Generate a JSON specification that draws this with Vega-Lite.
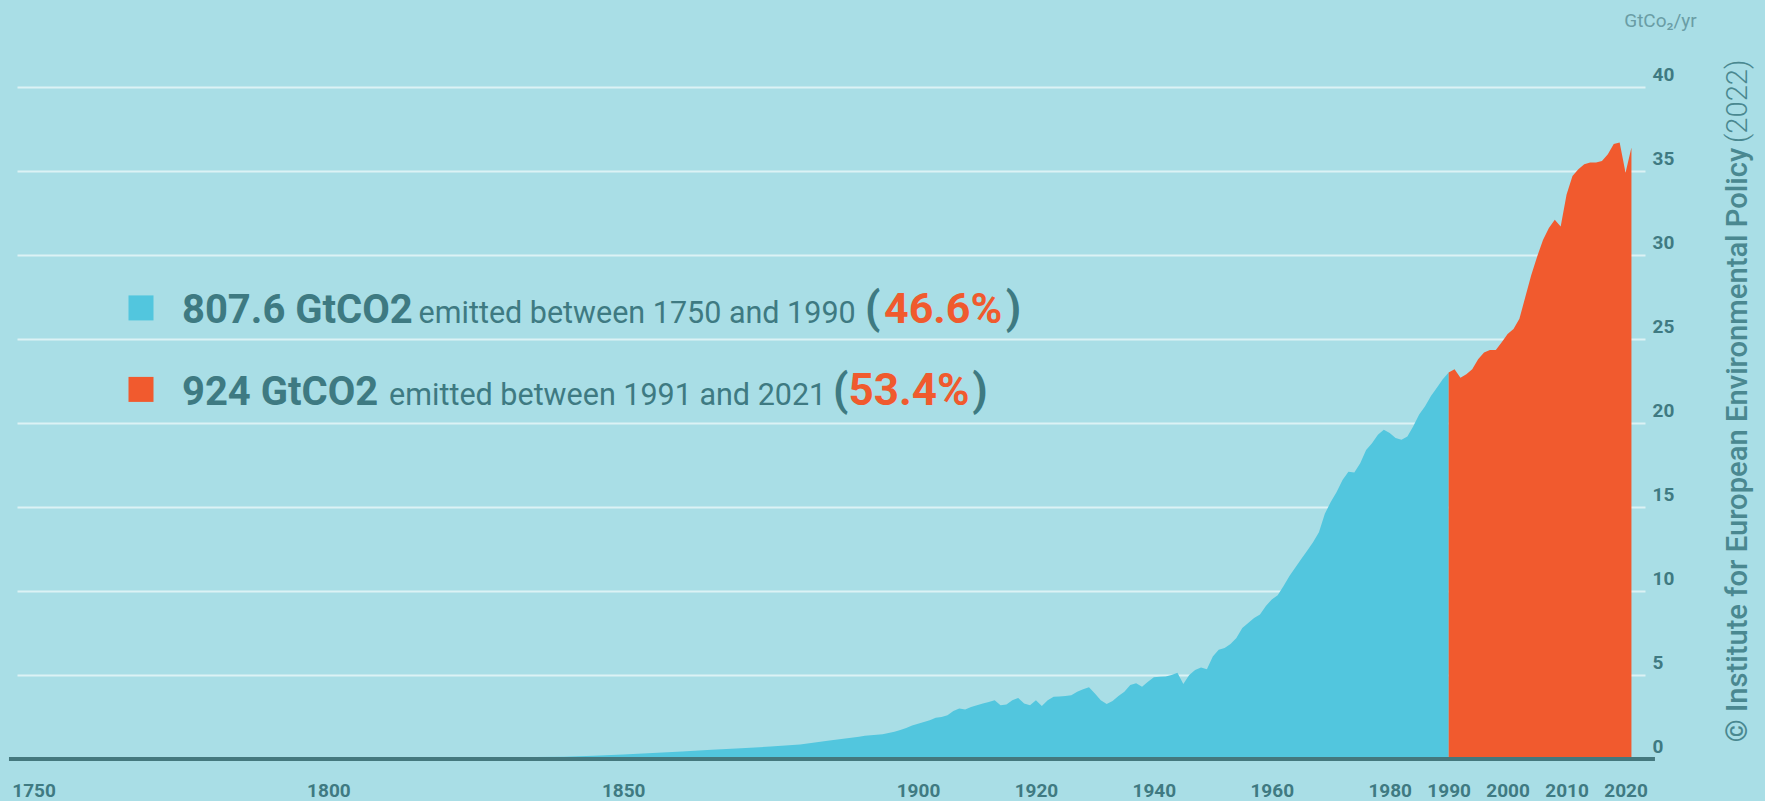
{
  "$schema": "https://vega.github.io/schema/vega-lite/v6.json",
  "width": 1628,
  "height": 672,
  "autosize": {"type": "none"},
  "padding": {"left": 17, "top": 87, "right": 120, "bottom": 42},
  "background": "#A9DEE6",
  "config": {"view": {"stroke": null}, "font": "Roboto"},
  "data": {"values": [{}]},
  "datasets": {
    "emissions": [
      {"year": 1750, "value": 0.01, "period": "1750-1990"},
      {"year": 1755, "value": 0.01, "period": "1750-1990"},
      {"year": 1760, "value": 0.012, "period": "1750-1990"},
      {"year": 1765, "value": 0.014, "period": "1750-1990"},
      {"year": 1770, "value": 0.016, "period": "1750-1990"},
      {"year": 1775, "value": 0.018, "period": "1750-1990"},
      {"year": 1780, "value": 0.02, "period": "1750-1990"},
      {"year": 1785, "value": 0.024, "period": "1750-1990"},
      {"year": 1790, "value": 0.03, "period": "1750-1990"},
      {"year": 1795, "value": 0.035, "period": "1750-1990"},
      {"year": 1800, "value": 0.04, "period": "1750-1990"},
      {"year": 1805, "value": 0.045, "period": "1750-1990"},
      {"year": 1810, "value": 0.05, "period": "1750-1990"},
      {"year": 1815, "value": 0.06, "period": "1750-1990"},
      {"year": 1820, "value": 0.07, "period": "1750-1990"},
      {"year": 1825, "value": 0.085, "period": "1750-1990"},
      {"year": 1830, "value": 0.1, "period": "1750-1990"},
      {"year": 1835, "value": 0.12, "period": "1750-1990"},
      {"year": 1840, "value": 0.14, "period": "1750-1990"},
      {"year": 1845, "value": 0.2, "period": "1750-1990"},
      {"year": 1850, "value": 0.27, "period": "1750-1990"},
      {"year": 1855, "value": 0.36, "period": "1750-1990"},
      {"year": 1860, "value": 0.45, "period": "1750-1990"},
      {"year": 1865, "value": 0.55, "period": "1750-1990"},
      {"year": 1870, "value": 0.64, "period": "1750-1990"},
      {"year": 1875, "value": 0.74, "period": "1750-1990"},
      {"year": 1880, "value": 0.86, "period": "1750-1990"},
      {"year": 1885, "value": 1.1, "period": "1750-1990"},
      {"year": 1890, "value": 1.33, "period": "1750-1990"},
      {"year": 1891, "value": 1.38, "period": "1750-1990"},
      {"year": 1892, "value": 1.42, "period": "1750-1990"},
      {"year": 1893, "value": 1.45, "period": "1750-1990"},
      {"year": 1894, "value": 1.47, "period": "1750-1990"},
      {"year": 1895, "value": 1.55, "period": "1750-1990"},
      {"year": 1896, "value": 1.62, "period": "1750-1990"},
      {"year": 1897, "value": 1.73, "period": "1750-1990"},
      {"year": 1898, "value": 1.85, "period": "1750-1990"},
      {"year": 1899, "value": 2.0, "period": "1750-1990"},
      {"year": 1900, "value": 2.1, "period": "1750-1990"},
      {"year": 1901, "value": 2.2, "period": "1750-1990"},
      {"year": 1902, "value": 2.3, "period": "1750-1990"},
      {"year": 1903, "value": 2.45, "period": "1750-1990"},
      {"year": 1904, "value": 2.5, "period": "1750-1990"},
      {"year": 1905, "value": 2.6, "period": "1750-1990"},
      {"year": 1906, "value": 2.85, "period": "1750-1990"},
      {"year": 1907, "value": 3.0, "period": "1750-1990"},
      {"year": 1908, "value": 2.95, "period": "1750-1990"},
      {"year": 1909, "value": 3.1, "period": "1750-1990"},
      {"year": 1910, "value": 3.2, "period": "1750-1990"},
      {"year": 1911, "value": 3.3, "period": "1750-1990"},
      {"year": 1912, "value": 3.4, "period": "1750-1990"},
      {"year": 1913, "value": 3.5, "period": "1750-1990"},
      {"year": 1914, "value": 3.2, "period": "1750-1990"},
      {"year": 1915, "value": 3.25, "period": "1750-1990"},
      {"year": 1916, "value": 3.5, "period": "1750-1990"},
      {"year": 1917, "value": 3.63, "period": "1750-1990"},
      {"year": 1918, "value": 3.3, "period": "1750-1990"},
      {"year": 1919, "value": 3.2, "period": "1750-1990"},
      {"year": 1920, "value": 3.5, "period": "1750-1990"},
      {"year": 1921, "value": 3.15, "period": "1750-1990"},
      {"year": 1922, "value": 3.5, "period": "1750-1990"},
      {"year": 1923, "value": 3.7, "period": "1750-1990"},
      {"year": 1924, "value": 3.72, "period": "1750-1990"},
      {"year": 1925, "value": 3.75, "period": "1750-1990"},
      {"year": 1926, "value": 3.8, "period": "1750-1990"},
      {"year": 1927, "value": 4.0, "period": "1750-1990"},
      {"year": 1928, "value": 4.15, "period": "1750-1990"},
      {"year": 1929, "value": 4.27, "period": "1750-1990"},
      {"year": 1930, "value": 3.9, "period": "1750-1990"},
      {"year": 1931, "value": 3.5, "period": "1750-1990"},
      {"year": 1932, "value": 3.27, "period": "1750-1990"},
      {"year": 1933, "value": 3.45, "period": "1750-1990"},
      {"year": 1934, "value": 3.75, "period": "1750-1990"},
      {"year": 1935, "value": 4.0, "period": "1750-1990"},
      {"year": 1936, "value": 4.4, "period": "1750-1990"},
      {"year": 1937, "value": 4.51, "period": "1750-1990"},
      {"year": 1938, "value": 4.3, "period": "1750-1990"},
      {"year": 1939, "value": 4.6, "period": "1750-1990"},
      {"year": 1940, "value": 4.87, "period": "1750-1990"},
      {"year": 1941, "value": 4.9, "period": "1750-1990"},
      {"year": 1942, "value": 4.91, "period": "1750-1990"},
      {"year": 1943, "value": 5.0, "period": "1750-1990"},
      {"year": 1944, "value": 5.14, "period": "1750-1990"},
      {"year": 1945, "value": 4.46, "period": "1750-1990"},
      {"year": 1946, "value": 5.0, "period": "1750-1990"},
      {"year": 1947, "value": 5.3, "period": "1750-1990"},
      {"year": 1948, "value": 5.44, "period": "1750-1990"},
      {"year": 1949, "value": 5.34, "period": "1750-1990"},
      {"year": 1950, "value": 6.1, "period": "1750-1990"},
      {"year": 1951, "value": 6.5, "period": "1750-1990"},
      {"year": 1952, "value": 6.6, "period": "1750-1990"},
      {"year": 1953, "value": 6.85, "period": "1750-1990"},
      {"year": 1954, "value": 7.2, "period": "1750-1990"},
      {"year": 1955, "value": 7.8, "period": "1750-1990"},
      {"year": 1956, "value": 8.1, "period": "1750-1990"},
      {"year": 1957, "value": 8.4, "period": "1750-1990"},
      {"year": 1958, "value": 8.6, "period": "1750-1990"},
      {"year": 1959, "value": 9.1, "period": "1750-1990"},
      {"year": 1960, "value": 9.5, "period": "1750-1990"},
      {"year": 1961, "value": 9.75, "period": "1750-1990"},
      {"year": 1962, "value": 10.3, "period": "1750-1990"},
      {"year": 1963, "value": 10.9, "period": "1750-1990"},
      {"year": 1964, "value": 11.4, "period": "1750-1990"},
      {"year": 1965, "value": 11.9, "period": "1750-1990"},
      {"year": 1966, "value": 12.4, "period": "1750-1990"},
      {"year": 1967, "value": 12.9, "period": "1750-1990"},
      {"year": 1968, "value": 13.5, "period": "1750-1990"},
      {"year": 1969, "value": 14.6, "period": "1750-1990"},
      {"year": 1970, "value": 15.3, "period": "1750-1990"},
      {"year": 1971, "value": 15.9, "period": "1750-1990"},
      {"year": 1972, "value": 16.6, "period": "1750-1990"},
      {"year": 1973, "value": 17.1, "period": "1750-1990"},
      {"year": 1974, "value": 17.05, "period": "1750-1990"},
      {"year": 1975, "value": 17.6, "period": "1750-1990"},
      {"year": 1976, "value": 18.4, "period": "1750-1990"},
      {"year": 1977, "value": 18.8, "period": "1750-1990"},
      {"year": 1978, "value": 19.3, "period": "1750-1990"},
      {"year": 1979, "value": 19.6, "period": "1750-1990"},
      {"year": 1980, "value": 19.4, "period": "1750-1990"},
      {"year": 1981, "value": 19.1, "period": "1750-1990"},
      {"year": 1982, "value": 19.0, "period": "1750-1990"},
      {"year": 1983, "value": 19.2, "period": "1750-1990"},
      {"year": 1984, "value": 19.8, "period": "1750-1990"},
      {"year": 1985, "value": 20.5, "period": "1750-1990"},
      {"year": 1986, "value": 21.0, "period": "1750-1990"},
      {"year": 1987, "value": 21.6, "period": "1750-1990"},
      {"year": 1988, "value": 22.1, "period": "1750-1990"},
      {"year": 1989, "value": 22.6, "period": "1750-1990"},
      {"year": 1990, "value": 23.0, "period": "1750-1990"},
      {"year": 1990, "value": 23.0, "period": "1991-2021"},
      {"year": 1991, "value": 23.2, "period": "1991-2021"},
      {"year": 1992, "value": 22.7, "period": "1991-2021"},
      {"year": 1993, "value": 22.9, "period": "1991-2021"},
      {"year": 1994, "value": 23.2, "period": "1991-2021"},
      {"year": 1995, "value": 23.8, "period": "1991-2021"},
      {"year": 1996, "value": 24.2, "period": "1991-2021"},
      {"year": 1997, "value": 24.35, "period": "1991-2021"},
      {"year": 1998, "value": 24.35, "period": "1991-2021"},
      {"year": 1999, "value": 24.8, "period": "1991-2021"},
      {"year": 2000, "value": 25.3, "period": "1991-2021"},
      {"year": 2001, "value": 25.6, "period": "1991-2021"},
      {"year": 2002, "value": 26.2, "period": "1991-2021"},
      {"year": 2003, "value": 27.5, "period": "1991-2021"},
      {"year": 2004, "value": 28.8, "period": "1991-2021"},
      {"year": 2005, "value": 29.9, "period": "1991-2021"},
      {"year": 2006, "value": 30.9, "period": "1991-2021"},
      {"year": 2007, "value": 31.6, "period": "1991-2021"},
      {"year": 2008, "value": 32.1, "period": "1991-2021"},
      {"year": 2009, "value": 31.7, "period": "1991-2021"},
      {"year": 2010, "value": 33.6, "period": "1991-2021"},
      {"year": 2011, "value": 34.7, "period": "1991-2021"},
      {"year": 2012, "value": 35.1, "period": "1991-2021"},
      {"year": 2013, "value": 35.4, "period": "1991-2021"},
      {"year": 2014, "value": 35.5, "period": "1991-2021"},
      {"year": 2015, "value": 35.5, "period": "1991-2021"},
      {"year": 2016, "value": 35.6, "period": "1991-2021"},
      {"year": 2017, "value": 36.0, "period": "1991-2021"},
      {"year": 2018, "value": 36.6, "period": "1991-2021"},
      {"year": 2019, "value": 36.7, "period": "1991-2021"},
      {"year": 2020, "value": 34.9, "period": "1991-2021"},
      {"year": 2021, "value": 36.4, "period": "1991-2021"}
    ]
  },
  "layer": [
    {
      "data": {"name": "emissions"},
      "mark": {"type": "area", "interpolate": "linear"},
      "encoding": {
        "x": {
          "field": "year", "type": "quantitative",
          "scale": {"domain": [1747.19, 2023.3], "nice": false, "zero": false},
          "axis": {
            "values": [1750, 1800, 1850, 1900, 1920, 1940, 1960, 1980, 1990, 2000, 2010, 2020],
            "format": "d", "domain": false, "ticks": false, "grid": false,
            "labelPadding": 22, "labelFont": "Roboto", "labelFontWeight": "bold",
            "labelFontSize": 19, "labelColor": "#3F7A82", "labelOverlap": false,
            "labelFlush": false, "title": null
          }
        },
        "y": {
          "field": "value", "type": "quantitative", "stack": null,
          "scale": {"domain": [0, 40], "nice": false},
          "axis": {
            "orient": "right",
            "values": [0, 5, 10, 15, 20, 25, 30, 35, 40],
            "grid": true, "gridColor": "#FFFFFF", "gridOpacity": 0.6, "gridWidth": 2,
            "domain": false, "ticks": false,
            "labelAlign": "left", "labelPadding": 7, "labelOffset": -13,
            "labelFont": "Roboto", "labelFontWeight": "bold", "labelFontSize": 19,
            "labelColor": "#3F7A82",
            "title": "GtCo₂/yr", "titleAngle": 0, "titleX": 15, "titleY": -67,
            "titleAlign": "center", "titleBaseline": "middle",
            "titleFont": "Roboto", "titleFontWeight": "normal", "titleFontSize": 19,
            "titleColor": "#6A9DA5"
          }
        },
        "color": {
          "field": "period", "type": "nominal",
          "scale": {"domain": ["1750-1990", "1991-2021"], "range": ["#52C6DE", "#F15A2E"]},
          "legend": null
        }
      }
    },
    {
      "mark": {"type": "rule", "color": "#44787E", "strokeWidth": 4},
      "encoding": {
        "x": {"datum": 1745.83},
        "x2": {"datum": 2024.99},
        "y": {"datum": 0}
      }
    },
    {
      "mark": {"type": "point", "shape": "square", "filled": true, "size": 625, "opacity": 1, "color": "#52C6DE"},
      "encoding": {"x": {"datum": 1768.22}, "y": {"datum": 26.85}}
    },
    {
      "mark": {"type": "point", "shape": "square", "filled": true, "size": 625, "opacity": 1, "color": "#F15A2E"},
      "encoding": {"x": {"datum": 1768.22}, "y": {"datum": 22.0}}
    },
    {
      "mark": {"type": "text", "text": "807.6 GtCO2", "align": "left", "baseline": "alphabetic", "font": "Roboto", "fontWeight": "bold", "fontSize": 40, "color": "#3E7A82"},
      "encoding": {"x": {"datum": 1775.17}, "y": {"datum": 25.95}}
    },
    {
      "mark": {"type": "text", "text": "emitted between 1750 and 1990", "align": "left", "baseline": "alphabetic", "font": "Roboto", "fontWeight": "normal", "fontSize": 30.5, "color": "#3E7A82"},
      "encoding": {"x": {"datum": 1815.3}, "y": {"datum": 25.95}}
    },
    {
      "mark": {"type": "text", "text": "(", "align": "left", "baseline": "alphabetic", "font": "Roboto", "fontWeight": "bold", "fontSize": 44, "color": "#3E7A82"},
      "encoding": {"x": {"datum": 1891.0}, "y": {"datum": 25.95}}
    },
    {
      "mark": {"type": "text", "text": "46.6%", "align": "left", "baseline": "alphabetic", "font": "Roboto", "fontWeight": "bold", "fontSize": 43, "color": "#F05A2E"},
      "encoding": {"x": {"datum": 1894.23}, "y": {"datum": 25.95}}
    },
    {
      "mark": {"type": "text", "text": ")", "align": "left", "baseline": "alphabetic", "font": "Roboto", "fontWeight": "bold", "fontSize": 44, "color": "#3E7A82"},
      "encoding": {"x": {"datum": 1914.9}, "y": {"datum": 25.95}}
    },
    {
      "mark": {"type": "text", "text": "924 GtCO2", "align": "left", "baseline": "alphabetic", "font": "Roboto", "fontWeight": "bold", "fontSize": 40, "color": "#3E7A82"},
      "encoding": {"x": {"datum": 1775.17}, "y": {"datum": 21.05}}
    },
    {
      "mark": {"type": "text", "text": "emitted between 1991 and 2021", "align": "left", "baseline": "alphabetic", "font": "Roboto", "fontWeight": "normal", "fontSize": 30.5, "color": "#3E7A82"},
      "encoding": {"x": {"datum": 1810.3}, "y": {"datum": 21.05}}
    },
    {
      "mark": {"type": "text", "text": "(", "align": "left", "baseline": "alphabetic", "font": "Roboto", "fontWeight": "bold", "fontSize": 44, "color": "#3E7A82"},
      "encoding": {"x": {"datum": 1885.6}, "y": {"datum": 21.05}}
    },
    {
      "mark": {"type": "text", "text": "53.4%", "align": "left", "baseline": "alphabetic", "font": "Roboto", "fontWeight": "bold", "fontSize": 44, "color": "#F05A2E"},
      "encoding": {"x": {"datum": 1888.2}, "y": {"datum": 21.05}}
    },
    {
      "mark": {"type": "text", "text": ")", "align": "left", "baseline": "alphabetic", "font": "Roboto", "fontWeight": "bold", "fontSize": 44, "color": "#3E7A82"},
      "encoding": {"x": {"datum": 1909.2}, "y": {"datum": 21.05}}
    },
    {
      "mark": {"type": "text", "text": "© Institute for European Environmental Policy", "align": "left", "baseline": "middle", "angle": 270, "font": "Roboto", "fontWeight": 500, "fontSize": 29.2, "color": "#4A8890"},
      "encoding": {"x": {"datum": 2039.1}, "y": {"datum": 1.0}}
    },
    {
      "mark": {"type": "text", "text": "(2022)", "align": "right", "baseline": "middle", "angle": 270, "font": "Roboto", "fontWeight": 300, "fontSize": 29.2, "color": "#4A8890"},
      "encoding": {"x": {"datum": 2039.1}, "y": {"datum": 41.64}}
    }
  ]
}
